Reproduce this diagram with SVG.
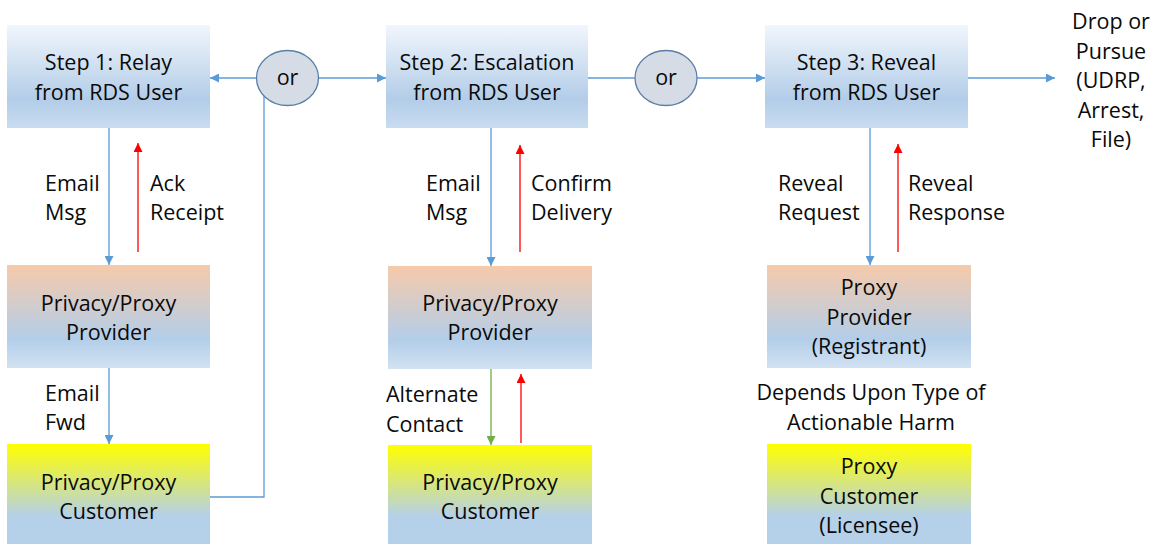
<svg xmlns="http://www.w3.org/2000/svg" width="1159" height="544" viewBox="0 0 1159 544">
  <defs>
    <linearGradient id="gStep" x1="0" y1="0" x2="0" y2="1">
      <stop offset="0" stop-color="#f1f6fc"/>
      <stop offset="0.72" stop-color="#b3cde8"/>
      <stop offset="1" stop-color="#c9dcf0"/>
    </linearGradient>
    <linearGradient id="gProvider" x1="0" y1="0" x2="0" y2="1">
      <stop offset="0" stop-color="#f6caab"/>
      <stop offset="0.72" stop-color="#b3cee9"/>
      <stop offset="1" stop-color="#d2e2f2"/>
    </linearGradient>
    <linearGradient id="gCustomer" x1="0" y1="0" x2="0" y2="1">
      <stop offset="0" stop-color="#ffff00"/>
      <stop offset="0.72" stop-color="#b5d0e9"/>
      <stop offset="1" stop-color="#b5d0e9"/>
    </linearGradient>
    <marker id="arrBlue" viewBox="0 0 10 10" refX="10" refY="5" markerWidth="9" markerHeight="9" markerUnits="userSpaceOnUse" orient="auto">
      <path d="M0,0 L10,5 L0,10 z" fill="#5b9bd5"/>
    </marker>
    <marker id="arrRed" viewBox="0 0 10 10" refX="10" refY="5" markerWidth="9" markerHeight="9" markerUnits="userSpaceOnUse" orient="auto">
      <path d="M0,0 L10,5 L0,10 z" fill="#ff0000"/>
    </marker>
    <marker id="arrGreen" viewBox="0 0 10 10" refX="10" refY="5" markerWidth="9" markerHeight="9" markerUnits="userSpaceOnUse" orient="auto">
      <path d="M0,0 L10,5 L0,10 z" fill="#70ad47"/>
    </marker>
  </defs>
  <style>
    text { font-family: "Open Sans", "Liberation Sans", sans-serif; font-size: 21.5px; fill: #0a0a0a; }
    .c { text-anchor: middle; }
    .blue { stroke: #5b9bd5; stroke-width: 1.3; fill: none; }
    .red { stroke: #ff0000; stroke-width: 1.3; fill: none; }
    .green { stroke: #70ad47; stroke-width: 1.3; fill: none; }
    .orNode { fill: #d6dce5; stroke: #5a7fa8; stroke-width: 1.3; }
  </style>

  <rect width="1159" height="544" fill="#ffffff"/>

  <!-- connectors -->
  <g id="connectors">
    <line class="blue" x1="257" y1="78" x2="210" y2="78" marker-end="url(#arrBlue)"/>
    <line class="blue" x1="318" y1="78" x2="386" y2="78" marker-end="url(#arrBlue)"/>
    <polyline class="blue" points="210,497 264,497 264,96"/>
    <line class="blue" x1="588" y1="78" x2="636" y2="78"/>
    <line class="blue" x1="696" y1="78" x2="765" y2="78" marker-end="url(#arrBlue)"/>
    <line class="blue" x1="968" y1="78" x2="1055" y2="78" marker-end="url(#arrBlue)"/>

    <line class="blue" x1="109" y1="128" x2="109" y2="265" marker-end="url(#arrBlue)"/>
    <line class="red" x1="138" y1="252" x2="138" y2="143" marker-end="url(#arrRed)"/>
    <line class="blue" x1="109" y1="368" x2="109" y2="444" marker-end="url(#arrBlue)"/>

    <line class="blue" x1="491" y1="128" x2="491" y2="266" marker-end="url(#arrBlue)"/>
    <line class="red" x1="520" y1="252" x2="520" y2="145" marker-end="url(#arrRed)"/>
    <line class="green" x1="491" y1="369" x2="491" y2="445" marker-end="url(#arrGreen)"/>
    <line class="red" x1="521" y1="443" x2="521" y2="374" marker-end="url(#arrRed)"/>

    <line class="blue" x1="870" y1="128" x2="870" y2="265" marker-end="url(#arrBlue)"/>
    <line class="red" x1="898" y1="252" x2="898" y2="144" marker-end="url(#arrRed)"/>
  </g>

  <!-- connector labels -->
  <g id="labels">
    <text x="45" y="191">Email</text>
    <text x="45" y="220">Msg</text>
    <text x="150" y="191">Ack</text>
    <text x="150" y="220">Receipt</text>
    <text x="45" y="401">Email</text>
    <text x="45" y="430">Fwd</text>

    <text x="426" y="191">Email</text>
    <text x="426" y="220">Msg</text>
    <text x="531" y="191">Confirm</text>
    <text x="531" y="220">Delivery</text>
    <text x="386" y="402">Alternate</text>
    <text x="386" y="432">Contact</text>

    <text x="778" y="191">Reveal</text>
    <text x="778" y="220">Request</text>
    <text x="908" y="191">Reveal</text>
    <text x="908" y="220">Response</text>

    <text class="c" x="871" y="400">Depends Upon Type of</text>
    <text class="c" x="871" y="430">Actionable Harm</text>
  </g>

  <g id="step1">
    <rect x="7" y="25" width="203" height="103" fill="url(#gStep)"/>
    <text class="c" x="108.5" y="70">Step 1: Relay</text>
    <text class="c" x="108.5" y="100">from RDS User</text>
  </g>
  <g id="or1">
    <ellipse class="orNode" cx="287.5" cy="78" rx="31" ry="27.5"/>
    <text class="c" x="287.5" y="85">or</text>
  </g>
  <g id="step2">
    <rect x="386" y="25" width="202" height="103" fill="url(#gStep)"/>
    <text class="c" x="487" y="70">Step 2: Escalation</text>
    <text class="c" x="487" y="100">from RDS User</text>
  </g>
  <g id="or2">
    <ellipse class="orNode" cx="666" cy="78" rx="31" ry="27.5"/>
    <text class="c" x="666" y="85">or</text>
  </g>
  <g id="step3">
    <rect x="765" y="25" width="203" height="103" fill="url(#gStep)"/>
    <text class="c" x="866.5" y="70">Step 3: Reveal</text>
    <text class="c" x="866.5" y="100">from RDS User</text>
  </g>
  <g id="outcome">
    <text class="c" x="1111" y="29">Drop or</text>
    <text class="c" x="1111" y="59">Pursue</text>
    <text class="c" x="1111" y="88">(UDRP,</text>
    <text class="c" x="1111" y="118">Arrest,</text>
    <text class="c" x="1111" y="147">File)</text>
  </g>

  <g id="provider1">
    <rect x="7" y="265" width="203" height="103" fill="url(#gProvider)"/>
    <text class="c" x="108.5" y="311">Privacy/Proxy</text>
    <text class="c" x="108.5" y="340">Provider</text>
  </g>
  <g id="customer1">
    <rect x="7" y="444" width="203" height="100" fill="url(#gCustomer)"/>
    <text class="c" x="108.5" y="490">Privacy/Proxy</text>
    <text class="c" x="108.5" y="519">Customer</text>
  </g>

  <g id="provider2">
    <rect x="388" y="266" width="204" height="103" fill="url(#gProvider)"/>
    <text class="c" x="490" y="311">Privacy/Proxy</text>
    <text class="c" x="490" y="340">Provider</text>
  </g>
  <g id="customer2">
    <rect x="388" y="445" width="204" height="99" fill="url(#gCustomer)"/>
    <text class="c" x="490" y="490">Privacy/Proxy</text>
    <text class="c" x="490" y="519">Customer</text>
  </g>

  <g id="provider3">
    <rect x="767" y="265" width="204" height="103" fill="url(#gProvider)"/>
    <text class="c" x="869" y="295">Proxy</text>
    <text class="c" x="869" y="325">Provider</text>
    <text class="c" x="869" y="354">(Registrant)</text>
  </g>
  <g id="customer3">
    <rect x="767" y="444" width="204" height="100" fill="url(#gCustomer)"/>
    <text class="c" x="869" y="474">Proxy</text>
    <text class="c" x="869" y="504">Customer</text>
    <text class="c" x="869" y="533">(Licensee)</text>
  </g>
</svg>
